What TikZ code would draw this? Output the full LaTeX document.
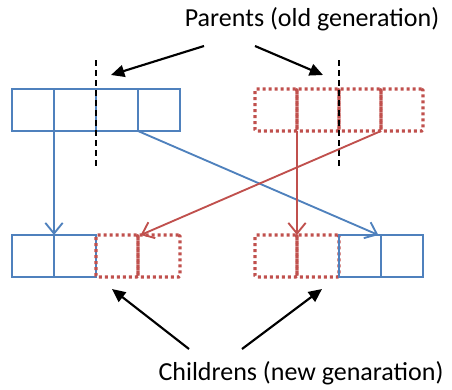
\documentclass[tikz,border=0pt]{standalone}
\usepackage{fontspec}
\setmainfont{Carlito}
\usepackage{xcolor}
\usetikzlibrary{arrows.meta}

\definecolor{genblue}{HTML}{4F81BD}
\definecolor{genred}{HTML}{C0504D}

\tikzset{
  bluecell/.style={draw=genblue, line width=1.4pt, minimum width=31.5pt,
    minimum height=31.5pt, inner sep=0pt, outer sep=0pt},
  redcell/.style={draw=genred, line width=2.4pt, dash pattern=on 2.2pt off 2.3pt,
    rounded corners=1pt, minimum width=31.5pt, minimum height=31.5pt,
    inner sep=0pt, outer sep=0pt},
  bluearrow/.style={genblue, line width=1.4pt, -{Straight Barb[length=8pt,width=13pt,line width=1.4pt]}},
  redarrow/.style={genred, line width=1.4pt, -{Straight Barb[length=8pt,width=13pt,line width=1.4pt]}},
  pointer/.style={black, line width=1.6pt, -{Triangle[length=10pt,width=9pt]}},
  cut/.style={black, line width=1.1pt, dash pattern=on 4.5pt off 3pt}
}

\begin{document}
\begin{tikzpicture}[x=0.75pt,y=-0.75pt]
  \useasboundingbox (0,0) rectangle (452,389);
  % labels
  \node[font=\fontsize{19.5}{22}\selectfont] (parents) at (312,19) {Parents (old generation)};
  \node[font=\fontsize{19.5}{22}\selectfont] (children) at (301,373) {Childrens (new genaration)};
  % parent 1
  \node[bluecell] (p1a) at (33,110) {};
  \node[bluecell] (p1b) at (75,110) {};
  \node[bluecell] (p1c) at (117,110) {};
  \node[bluecell] (p1d) at (159,110) {};
  % parent 2
  \node[redcell] (p2a) at (276,110) {};
  \node[redcell] (p2b) at (318,110) {};
  \node[redcell] (p2c) at (360,110) {};
  \node[redcell] (p2d) at (402,110) {};
  % child 1
  \node[bluecell] (c1a) at (33,256) {};
  \node[bluecell] (c1b) at (75,256) {};
  \node[redcell] (c1c) at (117,256) {};
  \node[redcell] (c1d) at (159,256) {};
  % child 2
  \node[redcell] (c2a) at (276,256) {};
  \node[redcell] (c2b) at (318,256) {};
  \node[bluecell] (c2c) at (360,256) {};
  \node[bluecell] (c2d) at (402,256) {};
  % crossover points
  \draw[cut] (96,60) -- (96,166);
  \draw[cut] (339,60) -- (339,166);
  % genes passed on
  \draw[bluearrow] (p1a.south east) -- (c1a.north east);
  \draw[bluearrow] (p1c.south east) -- ([xshift=-2pt]c2c.north east);
  \draw[redarrow] (p2c.south east) -- ([xshift=2pt]c1c.north east);
  \draw[redarrow] (p2a.south east) -- (c2a.north east);
  % pointers from the labels
  \coordinate (ps1) at (204,46);
  \coordinate (ps2) at (255,46);
  \coordinate (cs1) at (189,349);
  \coordinate (cs2) at (242,349);
  \coordinate (pl) at (111,75);
  \coordinate (pr) at (323,75);
  \coordinate (cl) at (112,289);
  \coordinate (cr) at (322,289);
  \draw[pointer] (ps1) -- (pl);
  \draw[pointer] (ps2) -- (pr);
  \draw[pointer] (cs1) -- (cl);
  \draw[pointer] (cs2) -- (cr);
\end{tikzpicture}
\end{document}
